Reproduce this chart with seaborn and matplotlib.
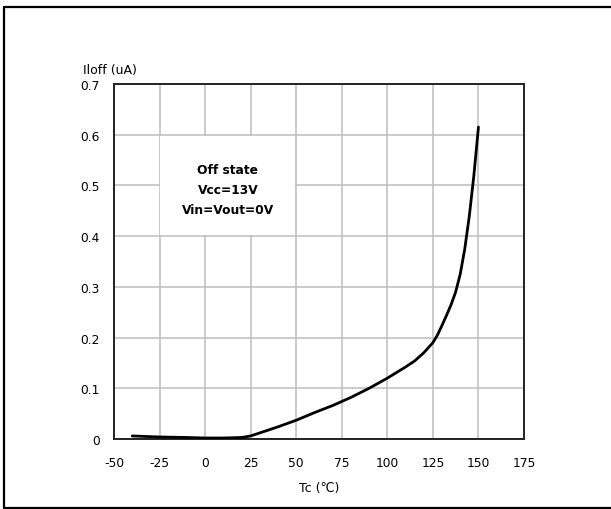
import matplotlib
matplotlib.use("Agg")
import matplotlib.pyplot as plt
import seaborn as sns
import pandas as pd
from matplotlib.patches import Rectangle
from matplotlib.lines import Line2D

sns.set_style("white")
plt.rcParams["font.family"] = ["DejaVu Sans"]
plt.rcParams["axes.unicode_minus"] = False
plt.rcParams["text.color"] = "black"
plt.rcParams["axes.labelcolor"] = "black"

# values
temp_c = [-40, -25, -10, 0, 10, 20, 25, 30, 40, 50, 60, 70, 80, 90, 100,
          110, 115, 120, 125, 127.5, 130, 132.5, 135, 137.5, 140, 142.5,
          145, 147.5, 150]
i_off_ua = [0.006, 0.004, 0.003, 0.002, 0.002, 0.003, 0.006, 0.012, 0.024,
            0.037, 0.052, 0.066, 0.082, 0.100, 0.120, 0.142, 0.154, 0.170,
            0.190, 0.205, 0.224, 0.244, 0.265, 0.290, 0.325, 0.375,
            0.440, 0.520, 0.615]
x_ticks = [-50, -25, 0, 25, 50, 75, 100, 125, 150, 175]
y_ticks = [0, 0.1, 0.2, 0.3, 0.4, 0.5, 0.6, 0.7]
y_tick_labels = ["0", "0.1", "0.2", "0.3", "0.4", "0.5", "0.6", "0.7"]
note_lines = ["Off state", "Vcc=13V", "Vin=Vout=0V"]

df = pd.DataFrame({"Tc": temp_c, "Ioff": i_off_ua})

fig = plt.figure(figsize=(6.11, 5.10), dpi=100)
ax = fig.add_axes([114 / 611, 70 / 510, 410 / 611, 355 / 510])

sns.lineplot(data=df, x="Tc", y="Ioff", ax=ax, color="black", linewidth=2.0, zorder=4)

ax.set_xlim(-50, 175)
ax.set_ylim(0, 0.7)
ax.set_xticks(x_ticks)
ax.set_yticks(y_ticks)
ax.set_yticklabels(y_tick_labels)
ax.tick_params(axis="both", length=0, labelsize=8.8, labelcolor="black")
ax.tick_params(axis="x", pad=12)
ax.tick_params(axis="y", pad=10)
ax.grid(True, color="#bdbdbd", linewidth=1.1, zorder=1)
ax.set_axisbelow(True)
for sp in ax.spines.values():
    sp.set_visible(True)
    sp.set_color("#222222")
    sp.set_linewidth(1.4)

ax.set_xlabel("Tc (℃)", fontsize=9, labelpad=9, color="black")
ax.set_ylabel("")
ax.text(-0.076, 1.042, "Iloff (uA)", transform=ax.transAxes, ha="left", va="center",
        fontsize=9, color="black")

# white note box covering the grid
ax.add_patch(Rectangle((-24.6, 0.402), 74.2, 0.196, facecolor="white", edgecolor="none", zorder=2))
for txt, yv in zip(note_lines, [0.532, 0.491, 0.452]):
    ax.text(12.5, yv, txt, ha="center", va="center", fontsize=8.8, fontweight="bold",
            color="black", zorder=3)

# outer frame (right side runs off the picture)
fx0, fy0, fy1 = 3.5 / 611, 1.5 / 510, 1 - 7.5 / 510
for xs, ys in [([fx0, fx0], [fy0, fy1]), ([fx0, 1.01], [fy1, fy1]), ([fx0, 1.01], [fy0, fy0])]:
    fig.add_artist(Line2D(xs, ys, transform=fig.transFigure, color="black", linewidth=1.6))

fig.savefig("out.png", dpi=100)
